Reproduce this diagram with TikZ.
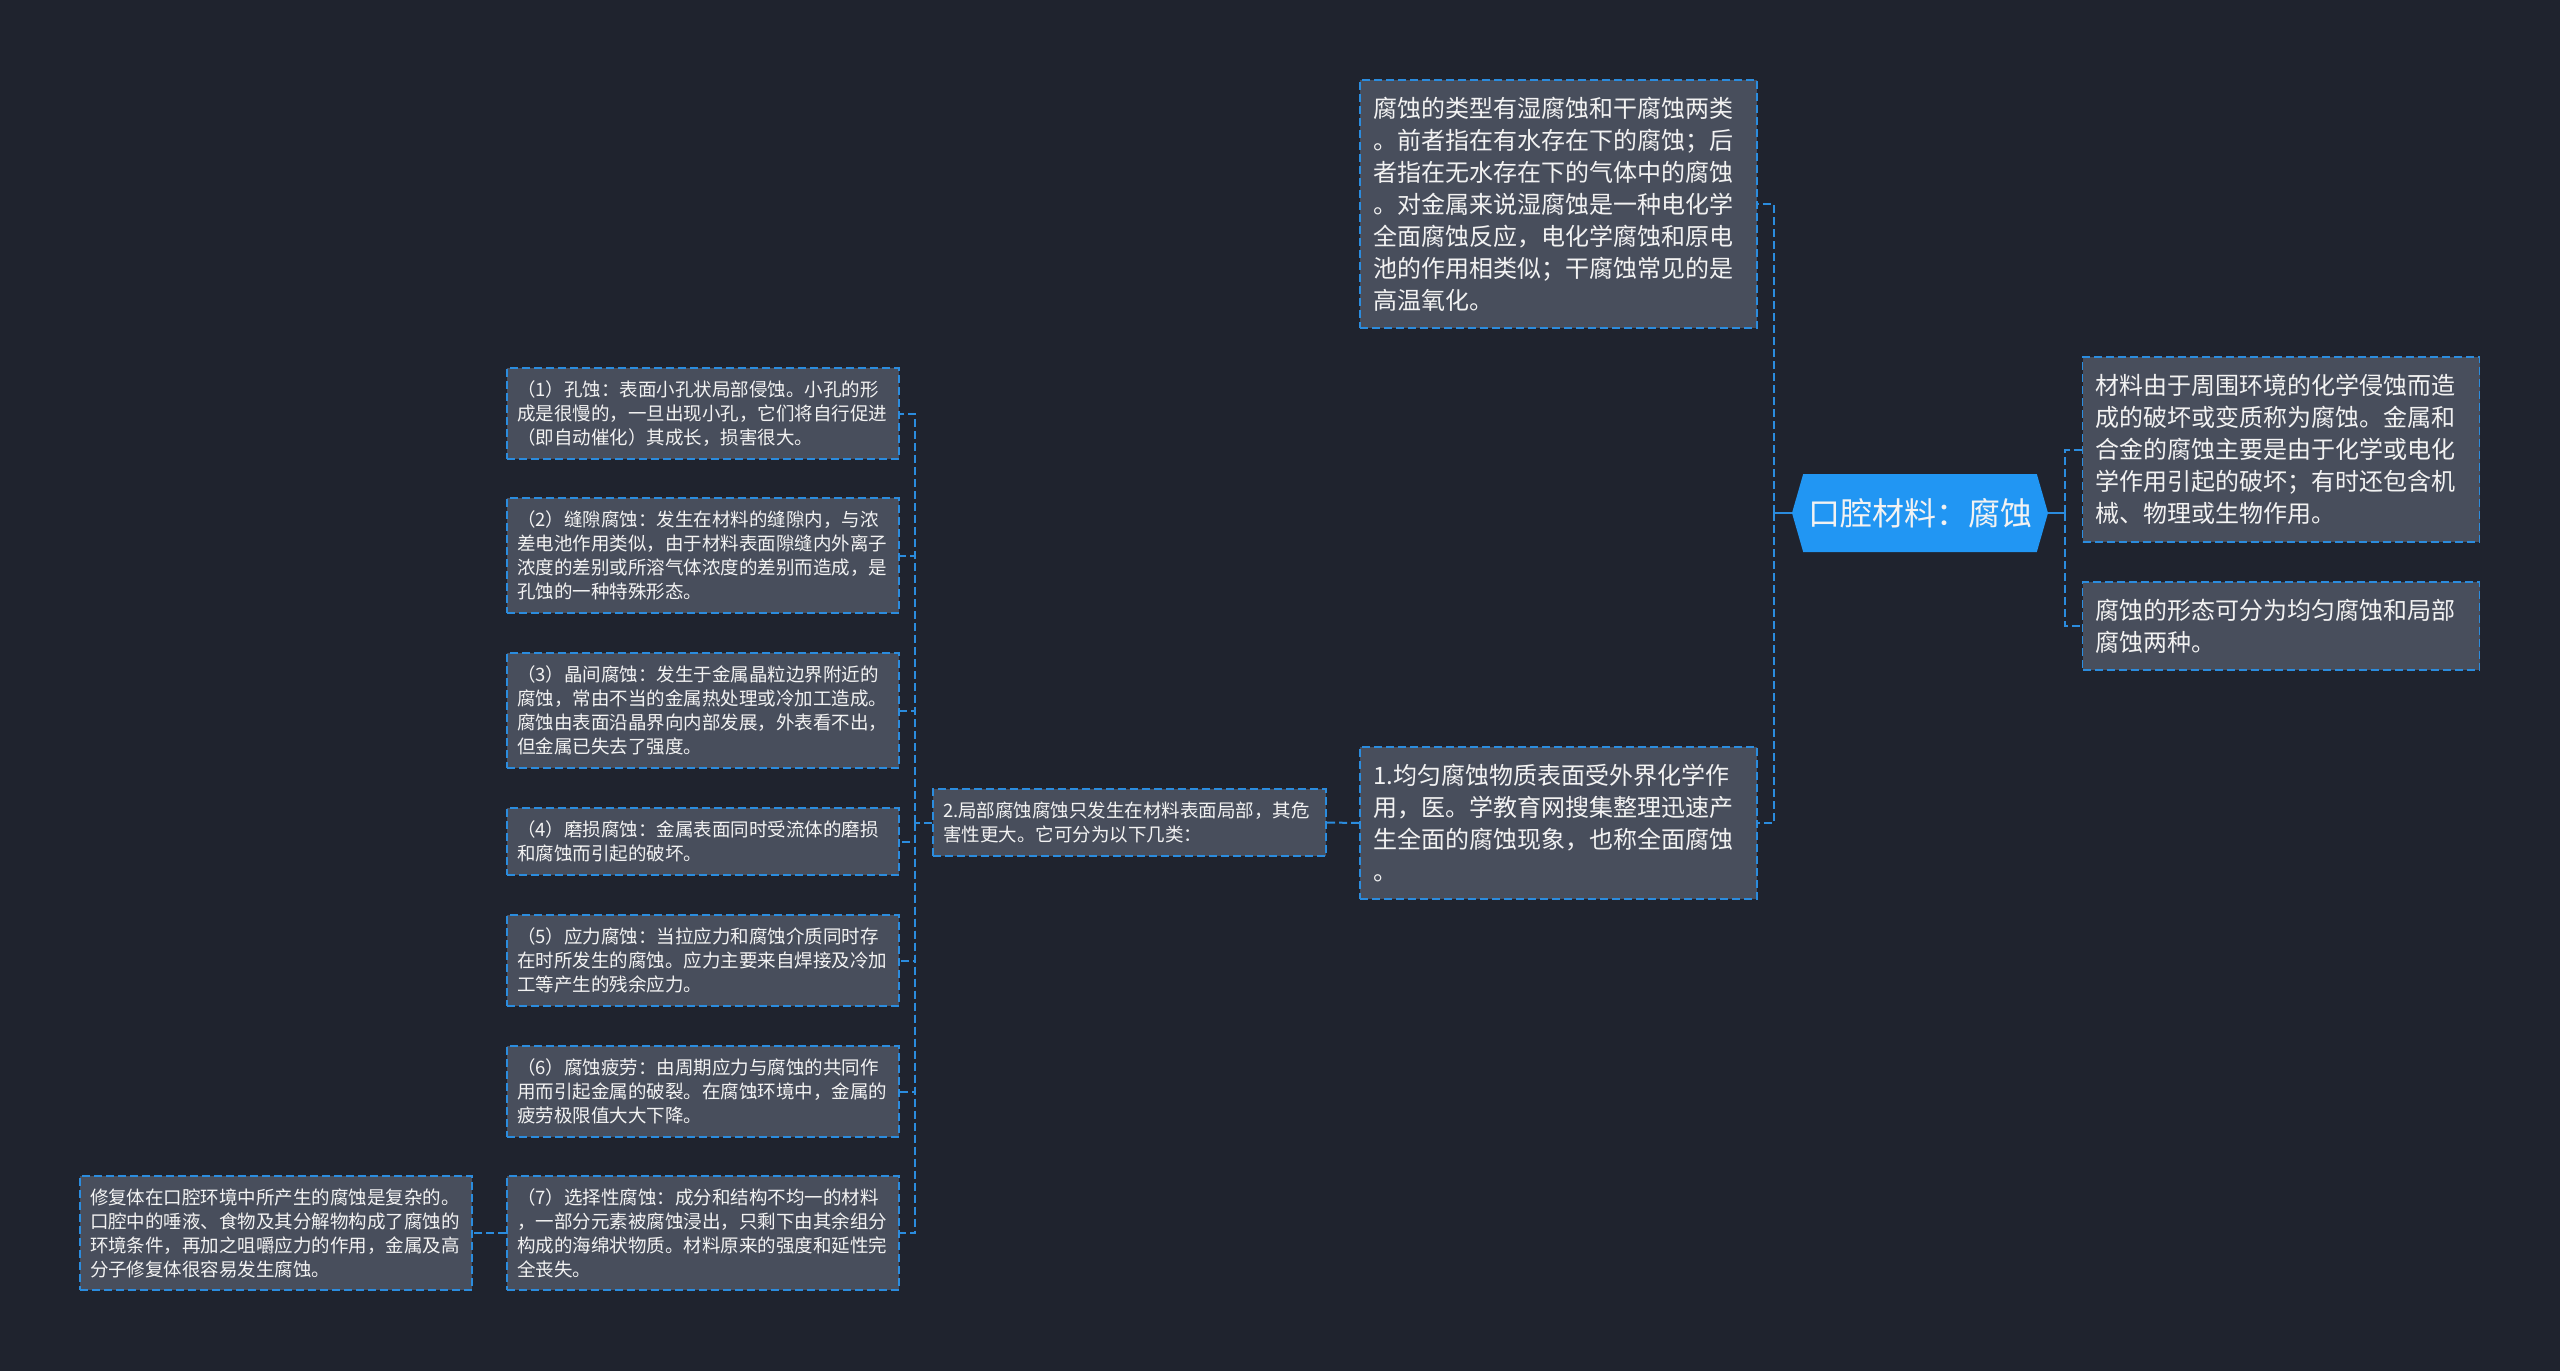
\documentclass[tikz,border=0pt]{standalone}
\usepackage{fontspec}
\setmainfont{Noto Sans CJK SC}
\usetikzlibrary{shapes.symbols}
\definecolor{bgcol}{RGB}{31,35,46}
\definecolor{boxfill}{RGB}{72,78,92}
\definecolor{linecol}{RGB}{43,140,222}
\definecolor{rootfill}{RGB}{33,150,243}
\definecolor{textcol}{RGB}{242,242,242}
\begin{document}
\begin{tikzpicture}[x=0.5pt,y=-0.5pt,
    bigbox/.style={draw=linecol, dash pattern=on 4pt off 2pt, line width=0.9pt,
        fill=boxfill, text=textcol, align=left, inner xsep=6.5pt, inner ysep=0pt,
        text width=185.5pt, minimum height=#1,
        font=\fontsize{12pt}{16pt}\selectfont},
    smallbox/.style={draw=linecol, dash pattern=on 4pt off 2pt, line width=0.9pt,
        fill=boxfill, text=textcol, align=left, inner xsep=5pt, inner ysep=0pt,
        text width=186pt, minimum height=#1,
        font=\fontsize{9.25pt}{12pt}\selectfont},
    rootnode/.style={shape=signal, signal to=west and east, signal pointer angle=148,
        fill=rootfill, text=textcol, inner sep=0pt, minimum width=128pt, minimum height=39pt,
        font=\fontsize{16pt}{20pt}\selectfont},
    link/.style={draw=linecol, line width=1pt, dash pattern=on 4pt off 2pt},
    rootlink/.style={draw=linecol, line width=1pt}]

    % Canvas
    \fill[bgcol] (0,0) rectangle (2560,1371);
    \useasboundingbox (0,0) rectangle (2560,1371);

    % Central Node
    \node[rootnode] (root) at (1920,513) {口腔材料：腐蚀};

    % Right branches
    \node[bigbox=92.5pt] (R1) at (2281,449.5) {材料由于周围环境的化学侵蚀而造\\成的破坏或变质称为腐蚀。金属和\\合金的腐蚀主要是由于化学或电化\\学作用引起的破坏；有时还包含机\\械、物理或生物作用。};
    \node[bigbox=44pt] (R2) at (2281,626) {腐蚀的形态可分为均匀腐蚀和局部\\腐蚀两种。};

    % Left branches
    \node[bigbox=124pt] (T) at (1558.5,204) {腐蚀的类型有湿腐蚀和干腐蚀两类\\。前者指在有水存在下的腐蚀；后\\者指在无水存在下的气体中的腐蚀\\。对金属来说湿腐蚀是一种电化学\\全面腐蚀反应，电化学腐蚀和原电\\池的作用相类似；干腐蚀常见的是\\高温氧化。};
    \node[bigbox=76pt] (U) at (1558.5,823) {1.均匀腐蚀物质表面受外界化学作\\用，医。学教育网搜集整理迅速产\\生全面的腐蚀现象，也称全面腐蚀\\。};

    % Local corrosion and its kinds
    \node[smallbox=33.5pt, text width=186.5pt] (L) at (1129.5,822.5) {2.局部腐蚀腐蚀只发生在材料表面局部，其危\\害性更大。它可分为以下几类：};
    \node[smallbox=45.5pt] (c1) at (703,413.5) {（1）孔蚀：表面小孔状局部侵蚀。小孔的形\\成是很慢的，一旦出现小孔，它们将自行促进\\（即自动催化）其成长，损害很大。};
    \node[smallbox=57.5pt] (c2) at (703,555.5) {（2）缝隙腐蚀：发生在材料的缝隙内，与浓\\差电池作用类似，由于材料表面隙缝内外离子\\浓度的差别或所溶气体浓度的差别而造成，是\\孔蚀的一种特殊形态。};
    \node[smallbox=57.5pt] (c3) at (703,710.5) {（3）晶间腐蚀：发生于金属晶粒边界附近的\\腐蚀，常由不当的金属热处理或冷加工造成。\\腐蚀由表面沿晶界向内部发展，外表看不出，\\但金属已失去了强度。};
    \node[smallbox=33.5pt] (c4) at (703,841.5) {（4）磨损腐蚀：金属表面同时受流体的磨损\\和腐蚀而引起的破坏。};
    \node[smallbox=45.5pt] (c5) at (703,960.5) {（5）应力腐蚀：当拉应力和腐蚀介质同时存\\在时所发生的腐蚀。应力主要来自焊接及冷加\\工等产生的残余应力。};
    \node[smallbox=45.5pt] (c6) at (703,1091.5) {（6）腐蚀疲劳：由周期应力与腐蚀的共同作\\用而引起金属的破裂。在腐蚀环境中，金属的\\疲劳极限值大大下降。};
    \node[smallbox=57pt] (c7) at (703,1233) {（7）选择性腐蚀：成分和结构不均一的材料\\，一部分元素被腐蚀浸出，只剩下由其余组分\\构成的海绵状物质。材料原来的强度和延性完\\全丧失。};
    \node[smallbox=57pt] (F) at (276,1233) {修复体在口腔环境中所产生的腐蚀是复杂的。\\口腔中的唾液、食物及其分解物构成了腐蚀的\\环境条件，再加之咀嚼应力的作用，金属及高\\分子修复体很容易发生腐蚀。};

    % Junctions
    \coordinate (jT) at (1774,513);
    \coordinate (jR) at (2065,513);
    \coordinate (jL) at (915,822.5);

    % Edges from the root
    \draw[rootlink] (root.west) -- (jT);
    \draw[rootlink] (root.east) -- (jR);
    \draw[link] (jT) |- (T.east);
    \draw[link] (jT) |- (U.east);
    \draw[link] (jR) |- (R1.west);
    \draw[link] (jR) |- (R2.west);

    % Edges to the kinds of local corrosion
    \draw[link] (U.west) -- (L.east);
    \draw[link] (L.west) -- (jL);
    \draw[link] (jL) |- (c1.east);
    \draw[link] (jL) |- (c2.east);
    \draw[link] (jL) |- (c3.east);
    \draw[link] (jL) |- (c4.east);
    \draw[link] (jL) |- (c5.east);
    \draw[link] (jL) |- (c6.east);
    \draw[link] (jL) |- (c7.east);
    \draw[link] (c7.west) -- (F.east);

\end{tikzpicture}
\end{document}
